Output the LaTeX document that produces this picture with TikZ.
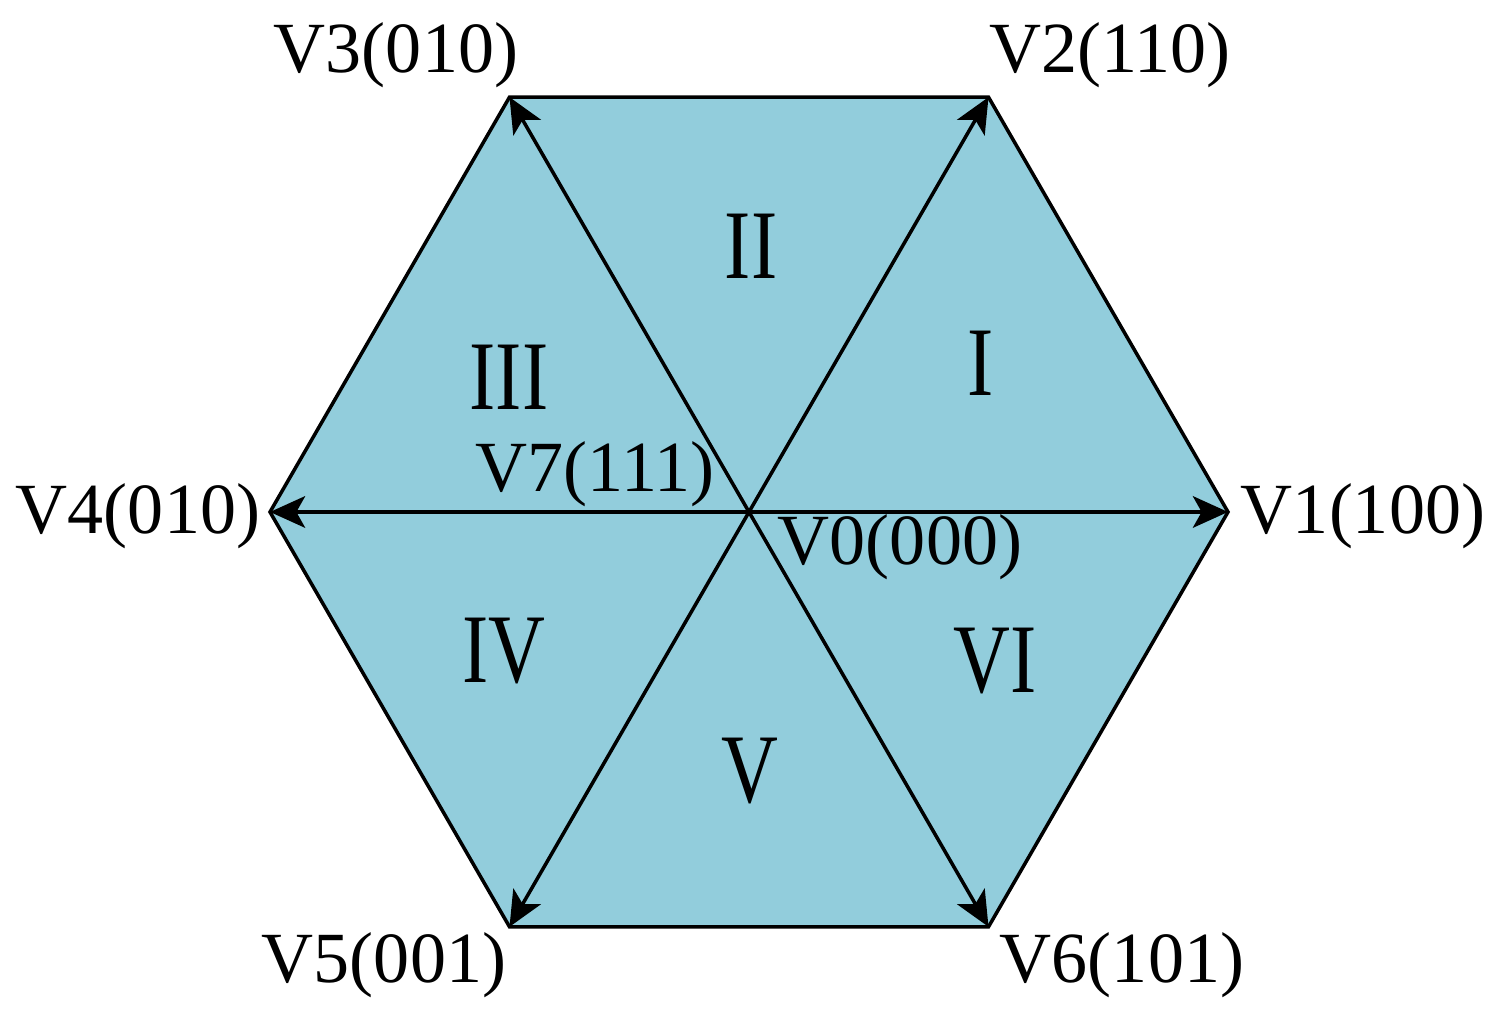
\documentclass[tikz,border=0pt]{standalone}
\usepackage{fontspec}
\setmainfont{Liberation Serif}
\usetikzlibrary{arrows.meta}
\definecolor{hexblue}{RGB}{146,205,220}
\begin{document}
\begin{tikzpicture}
	\useasboundingbox (0,0) rectangle (14.98,10.20);
	\tikzstyle{SectorStyle}=[fill=hexblue, draw=black, line width=1pt]
	\tikzstyle{VecStyle}=[-{Stealth[length=10pt,width=9pt,inset=2.5pt]}, line width=1pt]
	\tikzstyle{VecLabel}=[anchor=base, inner sep=0pt, font=\fontsize{20.5}{24}\selectfont]
	\tikzstyle{SecLabel}=[anchor=base, inner sep=0pt, xscale=0.8, font=\fontsize{28}{32}\selectfont]
	\coordinate (O) at (7.49,5.08);
	\foreach \i in {1,...,6}
		\path (O) ++({60*(\i-1)}:4.79) coordinate (V\i);
	\draw[SectorStyle] (V1) -- (V2) -- (V3) -- (V4) -- (V5) -- (V6) -- cycle;
	\foreach \i in {1,...,6}
		\draw[VecStyle] (O) -- (V\i);
	\node[VecLabel] (L1) at (13.63,4.86) {V1(100)};
	\node[VecLabel] (L2) at (11.10,9.47) {V2(110)};
	\node[VecLabel] (L3) at (3.96,9.47) {V3(010)};
	\node[VecLabel] (L4) at (1.38,4.86) {V4(010)};
	\node[VecLabel] (L5) at (3.84,0.37) {V5(001)};
	\node[VecLabel] (L6) at (11.22,0.37) {V6(101)};
	\node[VecLabel] (L7) at (5.95,5.28) {V7(111)};
	\node[VecLabel] (L0) at (9.00,4.55) {V0(000)};
	\node[SecLabel] (S1) at (9.81,6.24) {I};
	\node[SecLabel] (S2) at (7.51,7.41) {II};
	\node[SecLabel] (S3) at (5.09,6.10) {III};
	\node[SecLabel] (S4) at (5.04,3.37) {IV};
	\node[SecLabel] (S5) at (7.50,2.17) {V};
	\node[SecLabel] (S6) at (9.95,3.27) {VI};
\end{tikzpicture}
\end{document}
